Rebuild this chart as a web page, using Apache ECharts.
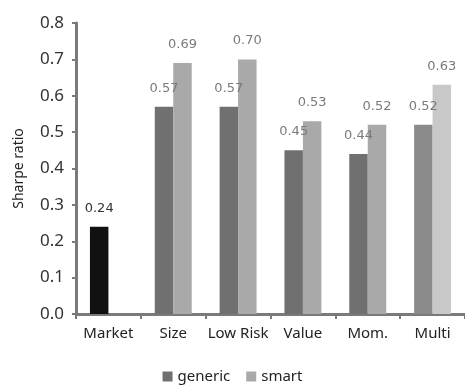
<!DOCTYPE html>
<html>
<head>
<meta charset="utf-8">
<script src="https://cdn.jsdelivr.net/npm/echarts@6/dist/echarts.min.js"></script>
<style>
  html, body { margin: 0; padding: 0; background: #fff; }
  #chart { width: 465px; height: 388px; }
</style>
</head>
<body>
<div id="chart"></div>
<script>
// Sharpe ratios of generic vs smart factor strategies
var categories = ['Market', 'Size', 'Low Risk', 'Value', 'Mom.', 'Multi'];
var genericValues = [0.24, 0.57, 0.57, 0.45, 0.44, 0.52];
var smartValues = [null, 0.69, 0.70, 0.53, 0.52, 0.63];
var yTicks = [0.0, 0.1, 0.2, 0.3, 0.4, 0.5, 0.6, 0.7, 0.8];

var GENERIC = '#707070', SMART = '#a9a9a9';
var MARKET = '#111111';
var MULTI_GENERIC = '#8b8b8b', MULTI_SMART = '#c8c8c8';
var TEXT_FONT = 'Noto Sans';

var labelStyle = {
  show: true,
  position: 'top',
  distance: 12,
  fontFamily: 'DejaVu Sans',
  fontSize: 13,
  color: '#7a7a7a',
  formatter: function (p) { return p.value == null ? '' : p.value.toFixed(2); }
};

var genericData = genericValues.map(function (v, i) {
  var item = { value: v };
  if (categories[i] === 'Market') {
    item.itemStyle = { color: MARKET };
    item.label = { color: '#333' };
  } else if (categories[i] === 'Multi') {
    item.itemStyle = { color: MULTI_GENERIC };
  }
  return item;
});
var smartData = smartValues.map(function (v, i) {
  if (v == null) return '-';
  var item = { value: v };
  if (categories[i] === 'Multi') item.itemStyle = { color: MULTI_SMART };
  return item;
});

var chart = echarts.init(document.getElementById('chart'), null, { renderer: 'canvas' });
chart.setOption({
  animation: false,
  backgroundColor: '#fff',
  grid: { left: 76, right: 0, top: 23, bottom: 74, containLabel: false },
  legend: {
    top: 369,
    left: 'center',
    itemWidth: 10,
    itemHeight: 10,
    itemGap: 16,
    itemTextGap: 3,
    icon: 'rect',
    padding: 0,
    textStyle: { fontFamily: TEXT_FONT, fontSize: 15, color: '#222' },
    data: [
      { name: 'generic', itemStyle: { color: GENERIC } },
      { name: 'smart', itemStyle: { color: SMART } }
    ]
  },
  xAxis: {
    type: 'category',
    data: categories,
    boundaryGap: true,
    axisLine: { lineStyle: { color: '#7a7a7a', width: 3 } },
    axisTick: { show: true, length: 5, lineStyle: { color: '#7a7a7a', width: 2 } },
    axisLabel: { interval: 0, fontFamily: TEXT_FONT, fontSize: 15, color: '#222', margin: 12 }
  },
  yAxis: {
    type: 'value',
    min: yTicks[0],
    max: yTicks[yTicks.length - 1],
    interval: 0.1,
    name: 'Sharpe ratio',
    nameLocation: 'middle',
    nameGap: 50,
    nameTextStyle: { fontFamily: TEXT_FONT, fontSize: 14, color: '#222' },
    splitLine: { show: false },
    axisLine: { show: true, lineStyle: { color: '#7a7a7a', width: 3 } },
    axisTick: { show: true, length: 4, lineStyle: { color: '#7a7a7a', width: 2 } },
    axisLabel: {
      fontFamily: TEXT_FONT, fontSize: 17, color: '#333', margin: 12,
      formatter: function (v) { return v.toFixed(1); }
    }
  },
  series: [
    {
      name: 'generic',
      type: 'bar',
      data: genericData,
      barGap: '0%',
      barCategoryGap: '43%',
      itemStyle: { color: GENERIC },
      label: labelStyle
    },
    {
      name: 'smart',
      type: 'bar',
      data: smartData,
      itemStyle: { color: SMART },
      label: labelStyle
    }
  ]
});
</script>
</body>
</html>
